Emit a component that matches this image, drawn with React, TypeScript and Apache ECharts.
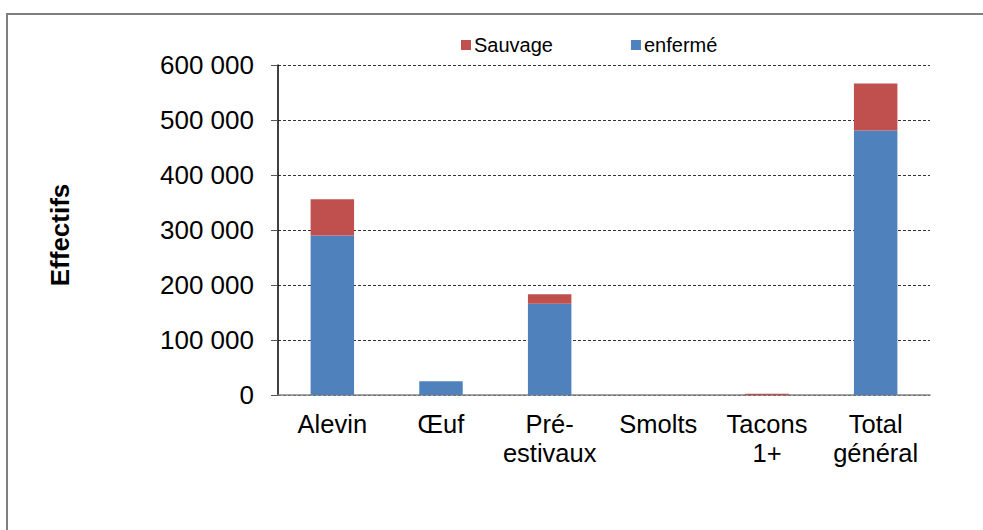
import React, { useEffect, useRef } from "react";
import * as echarts from "echarts";

const categories = ["Alevin", "Œuf", "Pré-\nestivaux", "Smolts", "Tacons\n1+", "Total\ngénéral"];
const enferme = [290000, 25000, 166000, 0, 0, 481000];
const sauvage = [66000, 0, 17000, 0, 2500, 85500];
const yTicks = [0, 100000, 200000, 300000, 400000, 500000, 600000];
const yTitle = "Effectifs";

const fmt = (v: number) => String(v).replace(/\B(?=(\d{3})+(?!\d))/g, " ");

export default function App() {
  const ref = useRef<HTMLDivElement>(null);
  useEffect(() => {
    if (!ref.current) return;
    const chart = echarts.init(ref.current, null, { renderer: "svg" });
    const font = "Liberation Sans, Arial, sans-serif";
    chart.setOption({
      animation: false,
      backgroundColor: "#ffffff",
      textStyle: { fontFamily: font },
      legend: {
        left: 456,
        top: 30,
        itemWidth: 10,
        itemHeight: 10,
        itemGap: 78,
        icon: "rect",
        textStyle: { fontSize: 20, color: "#000", fontFamily: font, padding: [0, 0, 0, -2] },
        data: ["Sauvage", "enfermé"],
      },
      grid: { left: 278, top: 65, right: 53, bottom: 135, containLabel: false },
      xAxis: {
        type: "category",
        data: categories,
        axisLine: { lineStyle: { color: "#868686", width: 1.5 } },
        axisTick: { length: 8, lineStyle: { color: "#000" } },
        axisLabel: { fontSize: 25.5, color: "#000", margin: 14, lineHeight: 29, interval: 0, fontFamily: font },
      },
      yAxis: {
        type: "value",
        min: yTicks[0],
        max: yTicks[yTicks.length - 1],
        interval: 100000,
        axisLine: { show: true, lineStyle: { color: "#000", width: 1.5 } },
        axisTick: { show: true, length: 7, lineStyle: { color: "#555" } },
        axisLabel: { fontSize: 26, color: "#000", margin: 24, formatter: (v: number) => fmt(v), fontFamily: font },
        splitLine: { show: true, lineStyle: { color: "#333", type: [3, 2], width: 1 } },
      },
      graphic: [
        {
          type: "rect",
          shape: { x: 7, y: 14, width: 1000, height: 600 },
          style: { fill: "none", stroke: "#7f7f7f", lineWidth: 2 },
          silent: true,
        },
        {
          type: "text",
          x: 60,
          y: 235,
          rotation: Math.PI / 2,
          style: {
            text: yTitle,
            fontSize: 26,
            fontWeight: "bold",
            fill: "#000",
            fontFamily: font,
            align: "center",
            verticalAlign: "middle",
          },
        },
      ],
      series: [
        {
          name: "enfermé",
          type: "bar",
          stack: "a",
          barWidth: "40%",
          data: enferme,
          itemStyle: { color: "#4F81BD" },
        },
        {
          name: "Sauvage",
          type: "bar",
          stack: "a",
          barWidth: "40%",
          data: sauvage,
          itemStyle: { color: "#C0504D" },
        },
      ],
    });
    return () => chart.dispose();
  }, []);
  return <div ref={ref} style={{ position: "fixed", left: 0, top: 0, width: 983, height: 530 }} />;
}
